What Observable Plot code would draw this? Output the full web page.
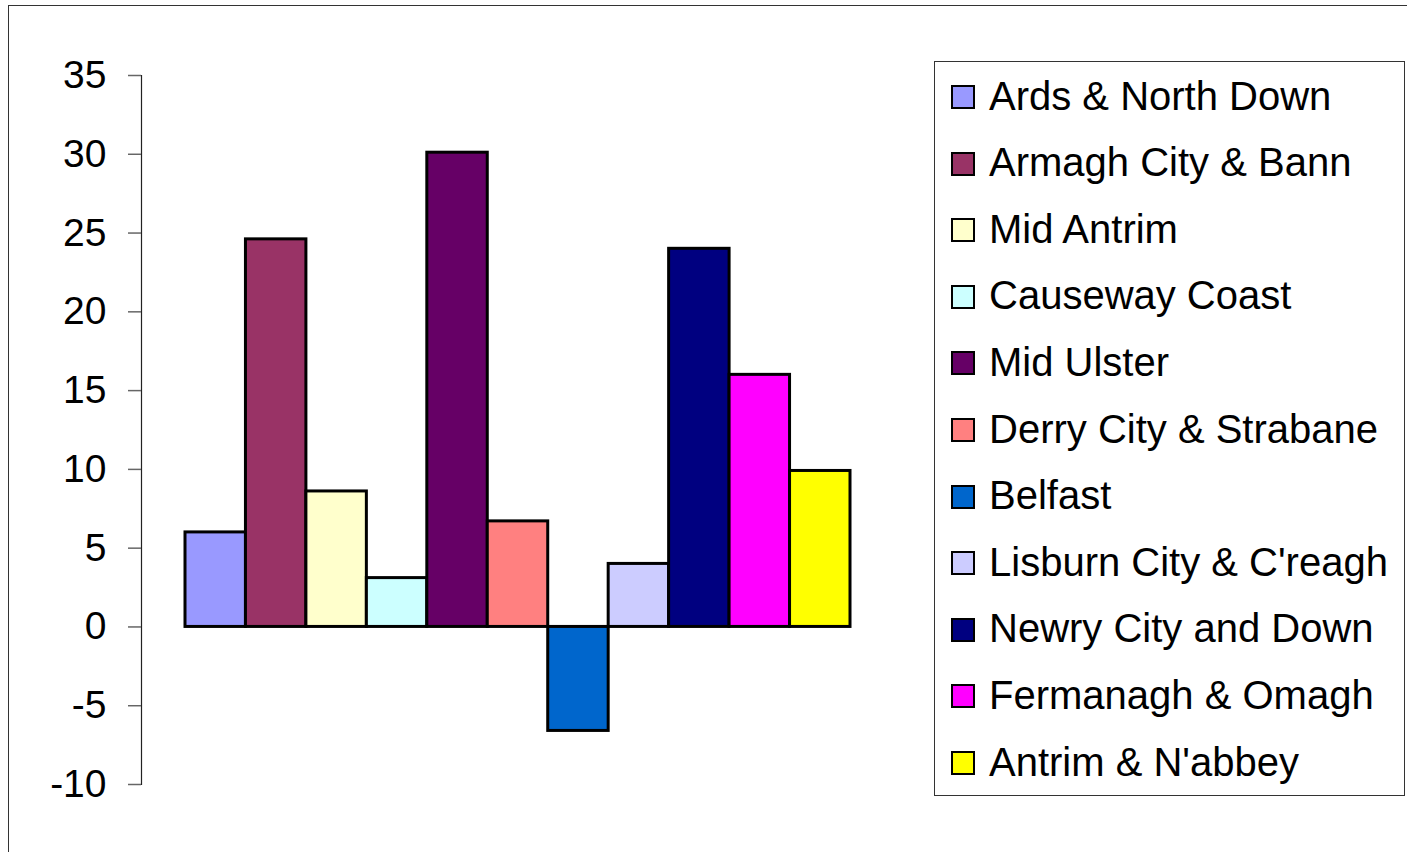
<!DOCTYPE html>
<html>
<head>
<meta charset="utf-8">
<script src="https://cdn.jsdelivr.net/npm/d3@7"></script>
<script src="https://cdn.jsdelivr.net/npm/@observablehq/plot@0.6"></script>
<style>
  html, body { margin: 0; padding: 0; background: #fff; }
  body { width: 1407px; height: 852px; overflow: hidden; position: relative; font-family: "Liberation Sans", Arial, sans-serif; }
  #outer { position: absolute; left: 8px; top: 5px; width: 1420px; height: 870px; border: 1.5px solid #333; box-sizing: border-box; }
  #chart { position: absolute; left: 0; top: 0; }
  #legend { position: absolute; left: 934px; top: 61px; width: 471px; height: 735px; border: 1px solid #333; box-sizing: border-box; background: #fff; }
  .sw { position: absolute; left: 16px; width: 24px; height: 24px; border: 2.5px solid #000; box-sizing: border-box; }
  .lt { position: absolute; left: 54px; font-size: 40px; line-height: 40px; white-space: nowrap; color: #000; }
</style>
</head>
<body>
<div id="outer"></div>
<div id="chart"></div>
<div id="legend"></div>
<script>
const categories = ["Ards & North Down", "Armagh City & Bann", "Mid Antrim", "Causeway Coast", "Mid Ulster", "Derry City & Strabane", "Belfast", "Lisburn City & C'reagh", "Newry City and Down", "Fermanagh & Omagh", "Antrim & N'abbey"];
const values = [6.0, 24.6, 8.6, 3.1, 30.1, 6.7, -6.6, 4.0, 24.0, 16.0, 9.9];
const colors = ["#9999FF", "#993366", "#FFFFCC", "#CCFFFF", "#660066", "#FF8080", "#0066CC", "#CCCCFF", "#000080", "#FF00FF", "#FFFF00"];
const yTicks = [-10, -5, 0, 5, 10, 15, 20, 25, 30, 35];

const data = categories.map((c, i) => ({category: c, value: values[i], color: colors[i]}));

const chart = Plot.plot({
  width: 1407,
  height: 852,
  marginLeft: 141,
  marginRight: 557,
  marginTop: 75,
  marginBottom: 68,
  style: {fontFamily: "'Liberation Sans', Arial, sans-serif", background: "transparent"},
  x: {domain: categories, padding: 0, insetLeft: 44, round: false, axis: null},
  y: {domain: [-10, 35], axis: null},
  marks: [
    Plot.barY(data, {x: "category", y: "value", fill: "color", stroke: "#000", strokeWidth: 3}),
    Plot.frame({anchor: "left", stroke: "#222", strokeWidth: 1.2}),
    Plot.axisY({ticks: yTicks, tickSize: 13, tickPadding: 22, fontSize: 39, stroke: "#666", strokeWidth: 1.5, tickFormat: d => String(d), fill: "#000", label: null})
  ]
});
document.getElementById("chart").appendChild(chart);

const legend = document.getElementById("legend");
categories.forEach((c, i) => {
  const cy = 96 + i * 66.6 - 61;
  const sw = document.createElement("div");
  sw.className = "sw";
  sw.style.top = (cy - 12) + "px";
  sw.style.background = colors[i];
  legend.appendChild(sw);
  const t = document.createElement("div");
  t.className = "lt";
  t.style.top = (cy - 21.5) + "px";
  t.textContent = c;
  legend.appendChild(t);
});
</script>
</body>
</html>
